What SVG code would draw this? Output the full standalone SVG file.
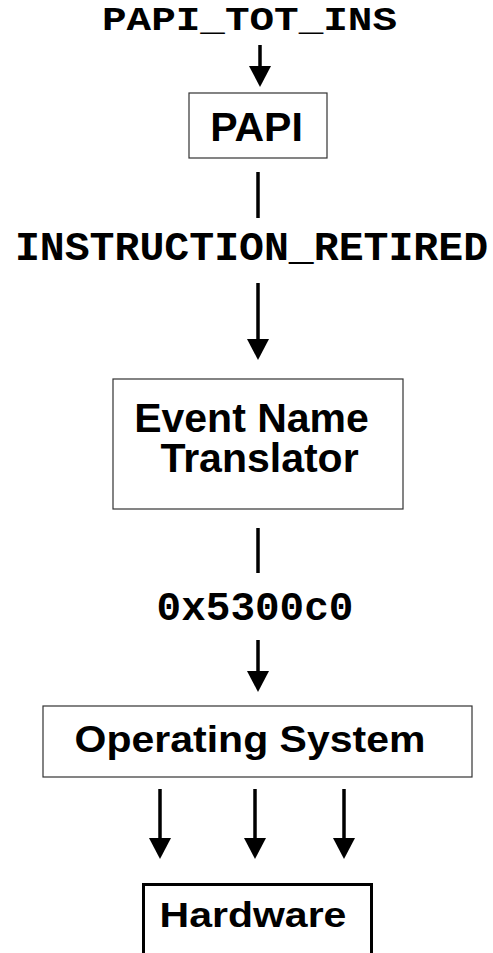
<svg xmlns="http://www.w3.org/2000/svg" width="493" height="953" viewBox="0 0 493 953">
<style>
.mono{font-family:"Liberation Mono","Courier New",monospace;font-weight:bold;font-size:41px;fill:#000;text-anchor:middle}
.sans{font-family:"Liberation Sans",Arial,sans-serif;font-weight:bold;font-size:41px;fill:#000;text-anchor:middle}
.box{fill:#fff;stroke:#333;stroke-width:1.2}
.hw{fill:none;stroke:#000;stroke-width:3}
.ln{stroke:#000;stroke-width:3.5;fill:none}
</style>
<defs>
<marker id="ah" markerUnits="userSpaceOnUse" viewBox="0 0 21 22" refX="0" refY="11" markerWidth="21" markerHeight="22" orient="auto">
<path d="M0,0 L21,11 L0,22 z" fill="#000"/>
</marker>
</defs>
<g id="connectors">
<line class="ln" x1="260" y1="45" x2="260" y2="66" marker-end="url(#ah)"/>
<line class="ln" x1="258" y1="172" x2="258" y2="218"/>
<line class="ln" x1="258" y1="283" x2="258" y2="339" marker-end="url(#ah)"/>
<line class="ln" x1="258" y1="528" x2="258" y2="573"/>
<line class="ln" x1="258" y1="640" x2="258" y2="671" marker-end="url(#ah)"/>
<line class="ln" x1="160" y1="789" x2="160" y2="838" marker-end="url(#ah)"/>
<line class="ln" x1="255" y1="789" x2="255" y2="838" marker-end="url(#ah)"/>
<line class="ln" x1="344" y1="789" x2="344" y2="838" marker-end="url(#ah)"/>
</g>
<g id="label-papi-tot-ins"><text class="mono" transform="translate(249.5,30) scale(1,0.83)" x="0" y="0">PAPI_TOT_INS</text></g>
<g id="node-papi">
<rect class="box" x="189" y="93" width="138" height="65"/>
<text class="sans" x="256.5" y="141">PAPI</text>
</g>
<g id="label-instruction-retired"><text class="mono" x="251.5" y="260" style="font-size:41.5px">INSTRUCTION_RETIRED</text></g>
<g id="node-translator">
<rect class="box" x="113" y="379" width="290" height="130"/>
<text class="sans" x="251.5" y="432">Event Name</text>
<text class="sans" x="259.5" y="472">Translator</text>
</g>
<g id="label-code"><text class="mono" x="255" y="620">0x5300c0</text></g>
<g id="node-os">
<rect class="box" x="43" y="706" width="429" height="71"/>
<text class="sans" transform="translate(250,752) scale(1,0.9)" x="0" y="0">Operating System</text>
</g>
<g id="node-hardware">
<path class="hw" d="M143.5,955 V884.5 H371.5 V955"/>
<text class="sans" transform="translate(253,927) scale(1,0.86)" x="0" y="0">Hardware</text>
</g>
</svg>
